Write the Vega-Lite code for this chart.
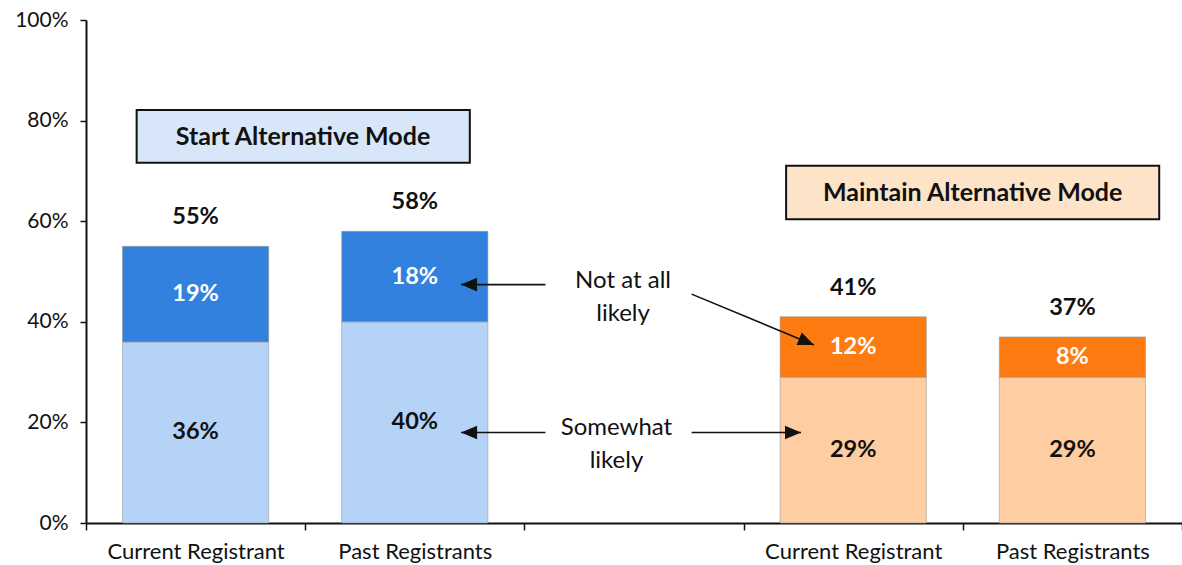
{
  "$schema": "https://vega.github.io/schema/vega-lite/v6.json",
  "width": 1096,
  "height": 503,
  "autosize": {"type": "none"},
  "padding": {"left": 86, "top": 20, "right": 0, "bottom": 42},
  "background": "white",
  "config": {
    "view": {"stroke": null},
    "font": "Lato",
    "axis": {"grid": false, "title": null, "domainColor": "#111", "tickColor": "#111", "labelColor": "#111", "labelFont": "Lato"}
  },
  "datasets": {
    "bars": [
      {"cat": "a", "group": "Start", "level": "Somewhat likely", "series": "Start - Somewhat likely", "value": 0.36},
      {"cat": "a", "group": "Start", "level": "Not at all likely", "series": "Start - Not at all likely", "value": 0.19},
      {"cat": "b", "group": "Start", "level": "Somewhat likely", "series": "Start - Somewhat likely", "value": 0.40},
      {"cat": "b", "group": "Start", "level": "Not at all likely", "series": "Start - Not at all likely", "value": 0.18},
      {"cat": "d", "group": "Maintain", "level": "Somewhat likely", "series": "Maintain - Somewhat likely", "value": 0.29},
      {"cat": "d", "group": "Maintain", "level": "Not at all likely", "series": "Maintain - Not at all likely", "value": 0.12},
      {"cat": "e", "group": "Maintain", "level": "Somewhat likely", "series": "Maintain - Somewhat likely", "value": 0.29},
      {"cat": "e", "group": "Maintain", "level": "Not at all likely", "series": "Maintain - Not at all likely", "value": 0.08}
    ],
    "boxes": [
      {"group": "Start", "label": "Start Alternative Mode", "x1": 0.231, "x2": 1.751, "y1": 0.716, "y2": 0.821, "xc": 0.99, "yc": 0.768},
      {"group": "Maintain", "label": "Maintain Alternative Mode", "x1": 3.194, "x2": 4.896, "y1": 0.604, "y2": 0.710, "xc": 4.045, "yc": 0.657}
    ],
    "arrows": [
      {"dir": "left", "x1": 2.096, "y1": 0.474, "x2": 1.711, "y2": 0.474},
      {"dir": "diag", "x1": 2.763, "y1": 0.455, "x2": 3.321, "y2": 0.354},
      {"dir": "left", "x1": 2.096, "y1": 0.180, "x2": 1.711, "y2": 0.180},
      {"dir": "right", "x1": 2.763, "y1": 0.180, "x2": 3.262, "y2": 0.180}
    ],
    "notes": [
      {"label": "Not at all\nlikely", "xc": 2.45, "yc": 0.481},
      {"label": "Somewhat\nlikely", "xc": 2.42, "yc": 0.189}
    ]
  },
  "layer": [
    {
      "data": {"name": "bars"},
      "layer": [
        {
          "mark": {"type": "bar", "width": {"band": 0.667}, "stroke": "#9a9a9a", "strokeWidth": 1, "strokeOpacity": 0.6},
          "encoding": {
            "x": {"field": "cat", "type": "nominal", "sort": null,
              "scale": {"type": "band", "domain": ["a", "b", "c", "d", "e"], "paddingInner": 0, "paddingOuter": 0},
              "axis": {"title": null, "tickBand": "extent", "labelAngle": 0, "labelFontSize": 22, "labelPadding": 11, "tickSize": 7, "tickWidth": 1.5, "domainWidth": 2,
                "labelExpr": "datum.value == 'a' || datum.value == 'd' ? 'Current Registrant' : (datum.value == 'b' || datum.value == 'e' ? 'Past Registrants' : '')"}},
            "y": {"field": "value", "type": "quantitative", "stack": "zero", "title": null,
              "scale": {"domain": [0, 1], "nice": false},
              "axis": {"title": null, "values": [0, 0.2, 0.4, 0.6, 0.8, 1], "format": ".0%", "labelFontSize": 21, "labelPadding": 12, "tickSize": 6, "tickWidth": 1.5, "domainWidth": 2}},
            "color": {"field": "series", "type": "nominal", "legend": null,
              "scale": {"domain": ["Start - Somewhat likely", "Start - Not at all likely", "Maintain - Somewhat likely", "Maintain - Not at all likely"],
                "range": ["#b4d3f7", "#3381de", "#fecda1", "#fe7b11"]}},
            "order": {"field": "level", "sort": "descending"}
          }
        },
        {
          "transform": [
            {"stack": "value", "groupby": ["cat"], "sort": [{"field": "level", "order": "descending"}], "as": ["y0", "y1"]},
            {"fold": ["y0", "y1"], "as": ["k", "yv"]}
          ],
          "mark": {"type": "text", "fontSize": 23.5, "fontWeight": "bold", "baseline": "middle", "align": "center"},
          "encoding": {
            "x": {"field": "cat", "type": "nominal", "sort": null},
            "y": {"aggregate": "mean", "field": "yv", "type": "quantitative", "title": null},
            "detail": {"field": "level"},
            "text": {"aggregate": "max", "field": "value", "type": "quantitative", "format": ".0%"},
            "color": {"condition": {"test": "datum.level == 'Somewhat likely'", "value": "#111111"}, "value": "white"}
          }
        },
        {
          "mark": {"type": "text", "fontSize": 23.5, "fontWeight": "bold", "baseline": "middle", "align": "center", "dy": -29, "color": "#111"},
          "encoding": {
            "x": {"field": "cat", "type": "nominal", "sort": null},
            "y": {"aggregate": "sum", "field": "value", "type": "quantitative", "title": null},
            "text": {"aggregate": "sum", "field": "value", "type": "quantitative", "format": ".0%"}
          }
        }
      ]
    },
    {
      "layer": [
        {
          "data": {"name": "boxes"},
          "mark": {"type": "rect", "stroke": "#111", "strokeWidth": 2},
          "encoding": {
            "x": {"field": "x1", "type": "quantitative", "scale": {"domain": [0, 5], "nice": false, "zero": false}, "axis": null},
            "x2": {"field": "x2"},
            "y": {"field": "y1", "type": "quantitative", "title": null},
            "y2": {"field": "y2"},
            "fill": {"field": "group", "type": "nominal", "legend": null, "scale": {"domain": ["Start", "Maintain"], "range": ["#d7e6f8", "#fde4c8"]}}
          }
        },
        {
          "data": {"name": "boxes"},
          "mark": {"type": "text", "fontSize": 25, "fontWeight": "bold", "align": "center", "baseline": "middle", "color": "#111"},
          "encoding": {
            "x": {"field": "xc", "type": "quantitative", "axis": null},
            "y": {"field": "yc", "type": "quantitative", "title": null},
            "text": {"field": "label"}
          }
        },
        {
          "data": {"name": "arrows"},
          "mark": {"type": "rule", "color": "#111", "strokeWidth": 1.6},
          "encoding": {
            "x": {"field": "x1", "type": "quantitative", "axis": null},
            "y": {"field": "y1", "type": "quantitative", "title": null},
            "x2": {"field": "x2"},
            "y2": {"field": "y2"}
          }
        },
        {
          "data": {"name": "arrows"},
          "transform": [{"filter": "datum.dir == 'left'"}],
          "mark": {"type": "point", "shape": "M0,0L2,-0.85L2,0.85Z", "size": 256, "filled": true, "color": "#111", "opacity": 1, "angle": 0},
          "encoding": {
            "x": {"field": "x2", "type": "quantitative", "axis": null},
            "y": {"field": "y2", "type": "quantitative", "title": null}
          }
        },
        {
          "data": {"name": "arrows"},
          "transform": [{"filter": "datum.dir == 'right'"}],
          "mark": {"type": "point", "shape": "M0,0L2,-0.85L2,0.85Z", "size": 256, "filled": true, "color": "#111", "opacity": 1, "angle": 180},
          "encoding": {
            "x": {"field": "x2", "type": "quantitative", "axis": null},
            "y": {"field": "y2", "type": "quantitative", "title": null}
          }
        },
        {
          "data": {"name": "arrows"},
          "transform": [{"filter": "datum.dir == 'diag'"}],
          "mark": {"type": "point", "shape": "M0,0L2,-0.85L2,0.85Z", "size": 256, "filled": true, "color": "#111", "opacity": 1, "angle": 202.5},
          "encoding": {
            "x": {"field": "x2", "type": "quantitative", "axis": null},
            "y": {"field": "y2", "type": "quantitative", "title": null}
          }
        },
        {
          "data": {"name": "notes"},
          "mark": {"type": "text", "fontSize": 24, "align": "center", "baseline": "middle", "lineBreak": "\n", "lineHeight": 33, "color": "#111"},
          "encoding": {
            "x": {"field": "xc", "type": "quantitative", "axis": null},
            "y": {"field": "yc", "type": "quantitative", "title": null},
            "text": {"field": "label"}
          }
        }
      ]
    }
  ],
  "resolve": {"scale": {"x": "independent", "color": "independent", "fill": "independent"}}
}
